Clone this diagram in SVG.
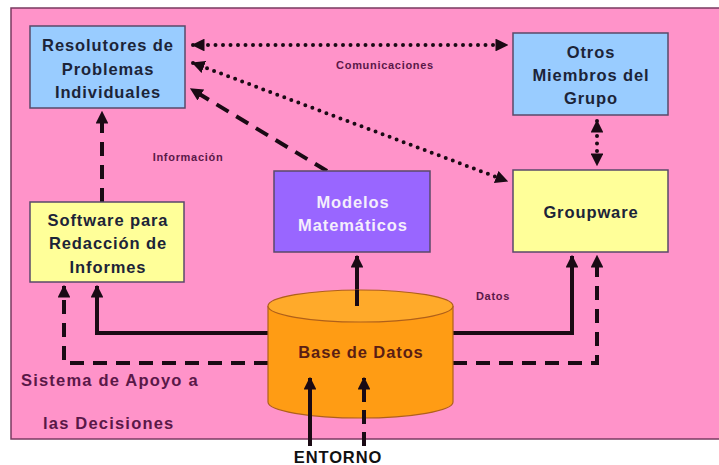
<svg xmlns="http://www.w3.org/2000/svg" width="719" height="465" viewBox="0 0 719 465">
<defs>
<style>
.bg{fill:#ff93c9;stroke:#7a3a60;stroke-width:1.5}
.node{stroke:#5a4a6a;stroke-width:1.5}
.blue{fill:#99ccff}
.yellow{fill:#ffff99}
.purple{fill:#9966ff}
.t{font-family:"Liberation Sans",Arial,sans-serif;font-weight:bold;font-size:16.5px;letter-spacing:0.9px;text-anchor:middle;fill:#1c2438}
.tw{fill:#f4eefc}
.tb{fill:#5a1e14}
.lab{font-family:"Liberation Sans",Arial,sans-serif;font-weight:bold;font-size:11px;letter-spacing:0.7px;text-anchor:middle;fill:#5a1848}
.big{font-family:"Liberation Sans",Arial,sans-serif;font-weight:bold;font-size:16.5px;letter-spacing:1.2px;fill:#5a1848}
.solid{fill:none;stroke:#1a0a14;stroke-width:4}
.dash{fill:none;stroke:#1a0a14;stroke-width:4;stroke-dasharray:14 9}
.dot{fill:none;stroke:#1a0a14;stroke-width:4;stroke-dasharray:0 7.5;stroke-linecap:round}
</style>
<marker id="ah" viewBox="0 0 10 10" refX="9" refY="5" markerWidth="3.2" markerHeight="3.2" orient="auto-start-reverse" markerUnits="strokeWidth">
<path d="M0,0 L10,5 L0,10 z" fill="#1a0a14"/>
</marker>
</defs>
<rect class="bg" x="11" y="8" width="712" height="431"/>
<g id="connectors">
<path class="dot" d="M193,45 L507,45" marker-start="url(#ah)" marker-end="url(#ah)"/>
<path class="dot" d="M193,63 L507,181" marker-start="url(#ah)" marker-end="url(#ah)"/>
<path class="dot" d="M597,121 L597,165" marker-start="url(#ah)" marker-end="url(#ah)"/>
<path class="dash" d="M327,171 L191,89" marker-end="url(#ah)"/>
<path class="dash" d="M102,202 L102,112" marker-end="url(#ah)"/>
<path class="solid" d="M357,306 L357,256" marker-end="url(#ah)"/>
<path class="solid" d="M268,333 L97,333 L97,286" marker-end="url(#ah)"/>
<path class="dash" d="M268,363 L64,363 L64,286" marker-end="url(#ah)"/>
<path class="solid" d="M453,333 L572,333 L572,256" marker-end="url(#ah)"/>
<path class="dash" d="M453,363 L597,363 L597,256" marker-end="url(#ah)"/>
</g>
<g id="resolutores">
<rect class="node blue" x="30" y="26" width="155" height="82"/>
<text class="t" x="108" y="51">Resolutores de</text>
<text class="t" x="108" y="75">Problemas</text>
<text class="t" x="108" y="98">Individuales</text>
</g>
<g id="otros">
<rect class="node blue" x="513" y="33" width="155" height="82"/>
<text class="t" x="591" y="58">Otros</text>
<text class="t" x="591" y="81">Miembros del</text>
<text class="t" x="591" y="104">Grupo</text>
</g>
<g id="software">
<rect class="node yellow" x="30" y="202" width="154" height="80"/>
<text class="t" x="108" y="226">Software para</text>
<text class="t" x="108" y="249">Redacción de</text>
<text class="t" x="108" y="273">Informes</text>
</g>
<g id="modelos">
<rect class="node purple" x="274" y="171" width="156" height="81"/>
<text class="t tw" x="353" y="208">Modelos</text>
<text class="t tw" x="353" y="231">Matemáticos</text>
</g>
<g id="groupware">
<rect class="node yellow" x="513" y="170" width="155" height="82"/>
<text class="t" x="591" y="218">Groupware</text>
</g>
<g id="basedatos">
<path d="M268,306 L268,402 A92.5,16 0 0 0 453,402 L453,306" fill="#ff9c14" stroke="#b0601a" stroke-width="1.2"/>
<ellipse cx="360.5" cy="306" rx="92.5" ry="16" fill="#ffaa2a" stroke="#b0601a" stroke-width="1.2"/>
<path class="solid" d="M357,290 L357,306" />
<text class="t tb" x="361" y="358">Base de Datos</text>
</g>
<g id="entorno">
<path class="solid" d="M310,446 L310,378" marker-end="url(#ah)"/>
<path class="dash" d="M364,446 L364,378" marker-end="url(#ah)" style="stroke-dasharray:14 8"/>
<text class="t" style="fill:#111" x="338" y="463">ENTORNO</text>
</g>
<text class="lab" x="385" y="69">Comunicaciones</text>
<text class="lab" x="188" y="161">Información</text>
<text class="lab" x="493" y="300">Datos</text>
<text class="big" x="21" y="386">Sistema de Apoyo a</text>
<text class="big" x="43" y="429">las Decisiones</text>
</svg>
